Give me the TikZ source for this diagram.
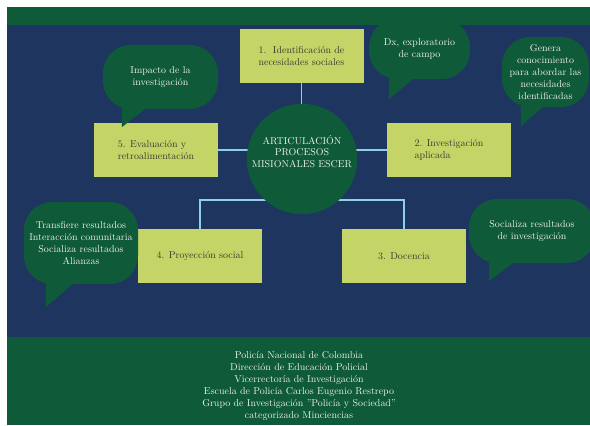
\documentclass[tikz,border=0pt]{standalone}
\usepackage{tikz}
\usetikzlibrary{positioning,calc}
\definecolor{PanelBlue}{RGB}{30,53,96}
\definecolor{BandGreen}{RGB}{15,90,56}
\definecolor{BoxLime}{RGB}{197,212,102}
\definecolor{LinkBlue}{RGB}{143,208,226}
\definecolor{InkGray}{RGB}{55,58,50}
\definecolor{SoftWhite}{RGB}{236,240,236}

\begin{document}
\begin{tikzpicture}[x=1bp,y=-1bp, every node/.style={font=\fontsize{10}{12}\selectfont},
  stage/.style={fill=BoxLime, text=InkGray, align=left, minimum width=124bp, minimum height=54bp, inner sep=0pt},
  bubble/.style={fill=BandGreen, text=SoftWhite, align=center, rounded corners=28bp, inner sep=0pt},
  link/.style={LinkBlue, line width=1.8bp}]
  \useasboundingbox (0,0) rectangle (590,425);
  \clip (0,0) rectangle (590,425);
  \fill[PanelBlue] (7,25) rectangle (590,337);
  \fill[BandGreen] (7,7) rectangle (590,25);
  \fill[BandGreen] (7,337) rectangle (590,425);

  \node[stage] (s1) at (301.5,56) {1.\ \ Identificación de\\necesidades sociales};
  \node[stage] (s5) at (156,150) {5. Evaluación y\\retroalimentación};
  \node[stage] (s2) at (449,150) {2. Investigación\\aplicada};
  \node[stage] (s4) at (200,256) {4. Proyección social};
  \node[stage] (s3) at (404,256) {3. Docencia};

  \node[bubble, minimum width=115bp, minimum height=64bp] (imp) at (160.5,77) {Impacto de la\\investigación};
  \fill[BandGreen] ($(imp.south west)+(19,-4)$) -- ++(0,22) -- ($(imp.south west)+(42,0)$) -- ++(0,-4) -- cycle;
  \node[bubble, minimum width=101bp, minimum height=60bp] (dx) at (419.5,49) {Dx, exploratorio\\de campo};
  \fill[BandGreen] ($(dx.south west)+(20,-4)$) -- ++(0,24) -- ($(dx.south west)+(44,0)$) -- ++(0,-4) -- cycle;
  \node[bubble, minimum width=87bp, minimum height=70bp] (gen) at (545.5,72) {Genera\\conocimiento\\para abordar las\\necesidades\\identificadas};
  \fill[BandGreen] ($(gen.south west)+(19,-4)$) -- ++(0,23) -- ($(gen.south west)+(41,0)$) -- ++(0,-4) -- cycle;
  \node[bubble, minimum width=114bp, minimum height=82bp] (tra) at (81,243) {Transfiere resultados\\Interacción comunitaria\\Socializa resultados\\Alianzas};
  \fill[BandGreen] ($(tra.south west)+(22,-4)$) -- ++(0,27) -- ($(tra.south west)+(49,0)$) -- ++(0,-4) -- cycle;
  \node[bubble, minimum width=126bp, minimum height=64bp] (soc) at (532,231) {Socializa resultados\\de investigación};
  \fill[BandGreen] ($(soc.south west)+(20,-4)$) -- ++(0,22) -- ($(soc.south west)+(44,0)$) -- ++(0,-4) -- cycle;

  \coordinate (hc) at (302,159);
  \draw[link] (s1.south) -- (s1.south |- hc);
  \draw[link] (s5.east) -- (s5.east -| hc);
  \draw[link] (s2.west) -- (s2.west -| hc);
  \draw[link] (s4.north) -- ++(0,-29) -| (s3.north);
  \node[circle, fill=BandGreen, text=SoftWhite, align=center, minimum size=108bp, inner sep=0pt,
    font=\fontsize{10}{11.5}\selectfont] (hub) at (hc) {ARTICULACIÓN\\PROCESOS\\MISIONALES ESCER\\[4bp]};

  \node[text=SoftWhite, align=center] (pie) at (299,386) {Policía Nacional de Colombia\\Dirección de Educación Policial\\Vicerrectoría de Investigación\\Escuela de Policía Carlos Eugenio Restrepo\\Grupo de Investigación "Policía y Sociedad"\\categorizado Minciencias};
\end{tikzpicture}
\end{document}
